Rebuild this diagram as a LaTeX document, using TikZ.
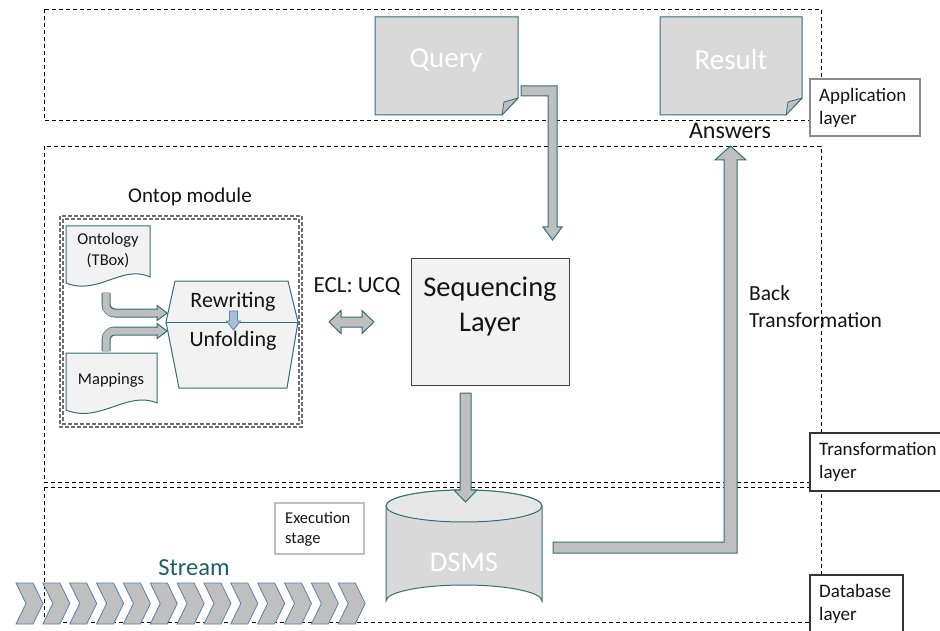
\documentclass[tikz,border=0pt]{standalone}
\usepackage{fontspec}
\setmainfont{Carlito}
\definecolor{tealline}{HTML}{31707A}
\definecolor{arrowgray}{HTML}{BFBFBF}
\definecolor{docgray}{HTML}{D9D9D9}
\definecolor{lightfill}{HTML}{F2F2F2}
\definecolor{topfill}{HTML}{E7E7E7}
\definecolor{txt}{HTML}{141414}
\definecolor{streamline}{HTML}{5A80A8}
\definecolor{streamtext}{HTML}{1F5F66}
\definecolor{smallarrow}{HTML}{A9BFD8}
\definecolor{smallarrowline}{HTML}{5A86B2}
\definecolor{moduleline}{HTML}{6E6E6E}
\tikzset{
  layerbox/.style={draw=black, dash pattern=on 4pt off 3pt, line width=0.8pt},
  modulebox/.style={draw=moduleline, dash pattern=on 4pt off 2pt, line width=1.1pt},
  tagbox/.style={draw=#1, fill=white, line width=1.2pt},
  tagtext/.style={anchor=west, align=left, text=txt, inner sep=0pt},
  blockarrow/.style={fill=arrowgray, draw=tealline, line width=1pt, line join=miter},
  docshape/.style={fill=docgray, draw=tealline, line width=1pt},
  wavedoc/.style={fill=lightfill, draw=tealline, line width=1pt},
  fold/.style={fill=arrowgray, draw=tealline, line width=0.8pt, line join=round},
  chevron/.style={fill=arrowgray, draw=streamline, line width=0.8pt, line join=miter},
  whitetext/.style={text=white, inner sep=0pt},
}
\begin{document}
\begin{tikzpicture}[x=1pt, y=-1pt]
\useasboundingbox (0,0) rectangle (940,631);
\clip (0,0) rectangle (940,631);
\fill[white] (0,0) rectangle (940,631);

% ---------- layers ----------
\draw[layerbox] (44,9) rectangle (821,120);
\draw[layerbox] (44,146) rectangle (821,482);
\draw[layerbox] (44,487) rectangle (821,622);

% ---------- application layer ----------
\path[docshape] (375,17) -- (518,17) -- (518,98) -- (502,115) -- (375,115) -- cycle;
\path[fold] (518,98) -- (502,115) -- (504,102) -- cycle;
\node[whitetext, font=\fontsize{29}{34}\selectfont] (query) at (446,60) {Query};

\path[docshape] (660,17) -- (802,17) -- (802,98) -- (786,115) -- (660,115) -- cycle;
\path[fold] (802,98) -- (786,115) -- (788,102) -- cycle;
\node[whitetext, font=\fontsize{29}{34}\selectfont] (result) at (731,60) {Result};

\node[text=txt, inner sep=0pt, font=\fontsize{24}{28}\selectfont] (answers) at (730,131) {Answers};

% query -> sequencing layer
\path[blockarrow] (521,86) -- (557,86) -- (557,227) -- (562,227) -- (552.5,240)
  -- (543,227) -- (548,227) -- (548,96) -- (521,96) -- cycle;

% ---------- transformation layer ----------
\node[text=txt, inner sep=0pt, font=\fontsize{21}{25}\selectfont] (ontoplbl) at (190,197) {Ontop module};
\draw[modulebox] (60,216) rectangle (302,427);
\draw[modulebox] (63,219) rectangle (299,424);

% ontology and mappings documents
\path[wavedoc] (66,226) -- (150,226) -- (150,277)
  .. controls (122,264) and (98,296) .. (66,283) -- cycle;
\node[text=txt, inner sep=0pt, align=center, font=\fontsize{16.5}{21}\selectfont] (onto) at (108,250) {Ontology\\(TBox)};

\path[wavedoc] (66,353) -- (157,353) -- (157,403)
  .. controls (127,390) and (100,424) .. (66,410) -- cycle;
\node[text=txt, inner sep=0pt, font=\fontsize{16.5}{20}\selectfont] (mapp) at (111,380) {Mappings};

% bent arrows into the rewriting / unfolding block
\coordinate (ontoout) at (106,293);
\coordinate (mappout) at (106,351);
\coordinate (rwin) at (157,313);
\coordinate (ufin) at (157,331);
\draw[tealline, line width=9pt, rounded corners=9pt] (ontoout) |- (rwin);
\draw[arrowgray, line width=7pt, rounded corners=8pt] ([yshift=1pt]ontoout) |- ([xshift=1pt]rwin);
\path[blockarrow] (157,305.5) -- (167,313) -- (157,320.5) -- cycle;
\draw[tealline, line width=9pt, rounded corners=9pt] (mappout) |- (ufin);
\draw[arrowgray, line width=7pt, rounded corners=8pt] ([yshift=-1pt]mappout) |- ([xshift=1pt]ufin);
\path[blockarrow] (157,323.5) -- (167,331) -- (157,338.5) -- cycle;
\fill[arrowgray] (155,309.8) rectangle (158.5,316.2);
\fill[arrowgray] (155,327.8) rectangle (158.5,334.2);

% rewriting / unfolding hexagon
\path[fill=lightfill, draw=tealline, line width=1pt, line join=miter]
  (175,281) -- (288,281) -- (298,322) -- (287,388) -- (179,388) -- (166,322) -- cycle;
\draw[tealline, line width=1pt] (166,322) -- (298,322);
\node[text=txt, inner sep=0pt, font=\fontsize{22}{26}\selectfont] (rewr) at (233,302) {Rewriting};
\node[text=txt, inner sep=0pt, font=\fontsize{22}{26}\selectfont] (unfo) at (233,341) {Unfolding};
\path[fill=smallarrow, draw=smallarrowline, line width=0.8pt, line join=miter]
  (229.5,311) -- (237.5,311) -- (237.5,321) -- (240.5,321) -- (233.5,330)
  -- (226.5,321) -- (229.5,321) -- cycle;

% ECL exchange
\node[text=txt, inner sep=0pt, font=\fontsize{23}{27}\selectfont] (ecl) at (357,287) {ECL: UCQ};
\path[blockarrow] (329,322) -- (341,310.5) -- (341,317) -- (362,317) -- (362,310.5)
  -- (374,322) -- (362,333.5) -- (362,327) -- (341,327) -- (341,333.5) -- cycle;

% sequencing layer
\node[draw=txt!80, fill=lightfill, line width=1pt, minimum width=158pt, minimum height=127pt,
  anchor=north west, inner sep=0pt] (seq) at (411,258) {};
\node[text=txt, inner sep=0pt, align=center, font=\fontsize{28.5}{35}\selectfont] (seqtext) at (490,306) {Sequencing\\Layer};

% back transformation
\node[tagtext, font=\fontsize{21.5}{27}\selectfont] (backtr) at (749,307) {Back\\Transformation};

% ---------- database layer ----------
% DSMS cylinder
\path[fill=docgray, draw=tealline, line width=1pt]
  (386,506) -- (386,601) arc[start angle=180, end angle=360, x radius=78, y radius=16]
  -- (542,506) arc[start angle=0, end angle=-180, x radius=78, y radius=16] -- cycle;
\path[fill=topfill, draw=tealline, line width=1pt] (464,506) ellipse[x radius=78, y radius=16];
\node[whitetext, font=\fontsize{28.5}{34}\selectfont] (dsms) at (464,562) {DSMS};

% sequencing layer -> DSMS
\path[blockarrow] (460,393) -- (471,393) -- (471,490) -- (477,490) -- (465.5,502)
  -- (454,490) -- (460,490) -- cycle;

% DSMS -> answers
\path[blockarrow] (553,542) -- (724,542) -- (724,160) -- (715,160) -- (730.5,146)
  -- (746,160) -- (737,160) -- (737,553) -- (553,553) -- cycle;

% execution stage tag
\draw[tagbox=black!25] (275,503) rectangle (364,554);
\node[tagtext, font=\fontsize{16.5}{20.5}\selectfont] (exec) at (285,529) {Execution\\stage};

% stream
\node[text=streamtext, inner sep=0pt, font=\fontsize{24.5}{29}\selectfont] (stream) at (194,568) {Stream};
\foreach \i in {0,...,12} {
  \path[chevron] ({16+26.85*\i},583) -- ({33+26.85*\i},583) -- ({43+26.85*\i},603.5)
    -- ({33+26.85*\i},624) -- ({16+26.85*\i},624) -- ({26+26.85*\i},603.5) -- cycle;
}

% ---------- layer tags ----------
\draw[tagbox=black!45] (810,79) rectangle (920,136);
\node[tagtext, font=\fontsize{19}{23}\selectfont] (applbl) at (819,107.5) {Application\\layer};
\draw[tagbox=black!80] (810,433) rectangle (960,491);
\node[tagtext, font=\fontsize{19}{23}\selectfont] (trlbl) at (819,462) {Transformation\\layer};
\draw[tagbox=black!80] (810,575) rectangle (903,650);
\node[tagtext, font=\fontsize{19}{23}\selectfont] (dblbl) at (819,604) {Database\\layer};
\end{tikzpicture}
\end{document}
